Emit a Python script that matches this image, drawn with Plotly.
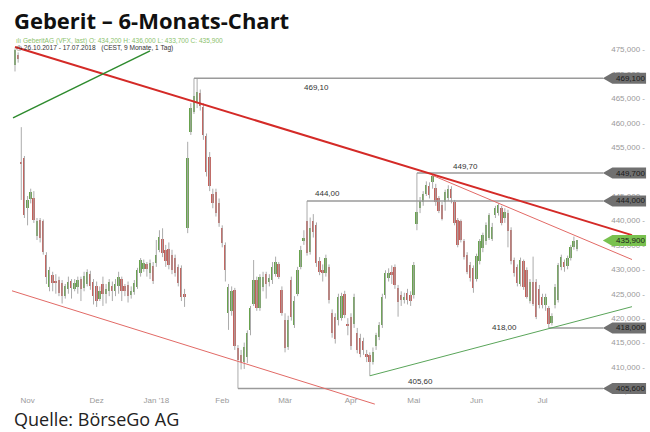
import pandas as pd
import plotly.graph_objects as go

# ---------------- data ----------------
holidays = ["2017-12-25", "2017-12-26", "2018-01-01", "2018-01-02", "2018-03-30",
            "2018-04-02", "2018-05-01", "2018-05-10", "2018-05-21"]
dates = [d.strftime("%Y-%m-%d") for d in pd.bdate_range("2017-10-26", "2018-07-17")
         if d.strftime("%Y-%m-%d") not in holidays]

open_ = [471.8, 473.9, 452.0, 452.7, 442.5, 444.4, 444.7, 436.8, 440.0, 439.8,
         433.0, 426.4, 428.8, 427.5, 427.8, 427.2, 424.5, 426.0, 427.6, 426.0,
         426.3, 428.0, 426.2, 427.0, 429.0, 427.5, 426.5, 424.0, 427.0, 425.0,
         425.5, 426.5, 425.5, 426.5, 428.0, 426.5, 426.8, 424.8, 425.4, 426.4,
         429.2, 430.0, 431.0, 429.2, 430.7, 431.2, 434.0, 436.2, 434.0, 434.2,
         433.0, 432.4, 430.5, 430.2, 425.0, 438.4, 458.2, 462.3, 464.0, 466.0,
         463.3, 457.2, 453.0, 445.5, 445.9, 443.5, 438.5, 435.0, 421.0, 421.5,
         425.8, 413.9, 412.5, 411.0, 412.1, 417.6, 423.0, 427.8, 422.0, 426.4,
         429.0, 427.5, 427.8, 429.0, 431.0, 425.8, 419.6, 414.0, 427.8, 418.7,
         425.0, 430.5, 435.8, 439.8, 433.5, 439.8, 439.1, 431.8, 429.8, 429.2,
         430.5, 421.0, 420.3, 419.6, 420.0, 425.0, 418.8, 420.3, 418.8, 416.9,
         416.0, 415.4, 412.6, 412.5, 411.1, 414.2, 416.2, 418.6, 424.7, 428.2,
         429.5, 430.5, 426.1, 424.8, 423.8, 425.2, 424.8, 424.7, 439.2, 442.5,
         443.8, 445.5, 447.0, 447.8, 446.6, 444.5, 443.2, 443.8, 444.5, 446.5,
         443.8, 440.1, 439.8, 435.7, 433.0, 430.9, 430.2, 428.0, 431.6, 434.3,
         435.7, 436.5, 436.3, 441.1, 441.5, 442.5, 440.5, 441.5, 438.1, 431.9,
         430.5, 427.0, 431.6, 429.9, 423.5, 427.5, 427.5, 426.0, 424.4, 422.7,
         422.0, 419.0, 422.7, 423.7, 430.5, 431.5, 430.7, 432.3, 434.5, 434.2]
high = [475.2, 474.4, 459.1, 453.2, 445.0, 446.5, 446.0, 440.5, 440.5, 440.2,
        433.5, 430.5, 429.5, 429.0, 428.5, 427.8, 427.0, 428.5, 428.0, 428.0,
        428.5, 428.5, 429.5, 430.0, 429.7, 428.0, 427.5, 426.5, 428.5, 427.0,
        428.0, 427.5, 428.0, 429.5, 428.5, 427.0, 427.5, 426.5, 427.8, 430.3,
        432.3, 432.0, 431.5, 432.0, 431.5, 436.0, 438.0, 438.4, 435.0, 435.5,
        434.0, 433.0, 431.0, 430.8, 426.0, 456.1, 464.0, 469.1, 469.1, 466.8,
        464.0, 457.8, 454.0, 446.5, 446.5, 444.5, 439.0, 435.5, 427.0, 426.5,
        426.2, 414.5, 413.5, 415.0, 417.5, 422.5, 431.9, 428.5, 429.0, 429.5,
        429.5, 429.0, 431.5, 432.6, 431.5, 426.5, 421.0, 420.5, 428.5, 424.5,
        430.5, 434.8, 438.0, 444.0, 440.6, 441.3, 439.6, 432.5, 431.0, 433.0,
        431.0, 421.8, 421.0, 425.0, 425.2, 425.6, 420.0, 421.0, 425.0, 418.0,
        416.8, 416.0, 413.5, 413.0, 414.0, 417.0, 419.2, 425.0, 429.8, 430.2,
        430.8, 431.0, 426.8, 425.5, 425.2, 426.0, 425.5, 431.5, 449.7, 444.8,
        446.0, 448.0, 447.8, 449.5, 447.5, 445.0, 443.8, 446.3, 447.2, 447.0,
        444.2, 440.5, 440.2, 436.2, 433.5, 431.5, 430.8, 433.2, 436.2, 437.5,
        439.6, 441.5, 439.5, 443.0, 443.5, 443.0, 442.5, 442.2, 438.6, 432.4,
        431.0, 432.4, 432.0, 430.4, 428.0, 432.6, 428.0, 426.8, 425.0, 425.0,
        422.5, 421.0, 427.0, 431.3, 433.0, 432.0, 432.8, 435.0, 436.7, 436.0]
low = [470.5, 472.3, 444.2, 440.5, 439.0, 443.5, 439.5, 436.0, 435.5, 433.0,
       427.0, 425.5, 425.5, 425.0, 424.5, 423.0, 424.0, 425.0, 424.0, 425.5,
       425.0, 423.5, 425.5, 426.5, 425.8, 422.8, 422.3, 423.5, 422.5, 423.0,
       424.5, 423.5, 424.5, 425.0, 423.5, 424.5, 423.2, 424.0, 424.8, 426.0,
       428.5, 429.5, 428.5, 428.0, 427.0, 430.5, 433.5, 432.5, 430.5, 430.0,
       429.0, 428.5, 426.5, 423.5, 422.3, 437.4, 457.5, 461.8, 463.0, 462.5,
       456.5, 449.0, 446.0, 442.5, 440.8, 438.7, 434.5, 427.5, 417.6, 420.5,
       413.5, 405.6, 409.5, 409.6, 410.8, 416.5, 422.5, 421.5, 421.5, 425.5,
       424.0, 426.5, 427.0, 428.5, 428.0, 420.5, 413.0, 413.5, 419.5, 418.0,
       424.5, 430.0, 435.0, 432.8, 433.0, 436.5, 430.5, 428.8, 427.5, 428.5,
       423.0, 416.0, 414.8, 418.5, 419.5, 420.0, 416.5, 413.5, 418.0, 412.8,
       412.0, 412.5, 411.0, 408.2, 410.5, 413.5, 415.5, 418.0, 424.0, 427.5,
       427.0, 426.0, 420.3, 422.5, 423.0, 422.8, 422.5, 424.0, 438.0, 441.5,
       443.0, 445.0, 444.5, 446.5, 443.0, 441.5, 440.0, 442.0, 444.0, 443.5,
       439.0, 434.5, 435.5, 432.0, 429.0, 427.5, 425.2, 427.5, 431.0, 433.5,
       435.0, 436.0, 435.8, 440.5, 441.0, 439.0, 439.5, 434.5, 431.0, 428.5,
       426.5, 426.5, 425.8, 424.0, 423.0, 422.5, 419.8, 422.0, 422.0, 421.5,
       418.0, 418.5, 422.0, 423.2, 429.8, 429.5, 430.0, 431.8, 434.0, 433.7]
close = [474.8, 473.0, 451.7, 441.1, 444.2, 445.9, 440.1, 439.8, 436.4, 433.6,
         428.5, 429.9, 427.1, 427.3, 425.1, 424.5, 426.5, 427.5, 426.2, 427.2,
         427.8, 426.0, 428.6, 429.5, 426.5, 424.5, 423.5, 425.5, 425.0, 426.0,
         427.5, 425.5, 427.0, 428.5, 425.5, 425.5, 424.5, 425.6, 427.2, 429.9,
         431.9, 431.3, 430.0, 431.3, 427.6, 433.0, 436.7, 433.3, 431.6, 430.8,
         429.9, 429.3, 427.1, 424.4, 424.4, 452.7, 463.0, 465.5, 466.2, 463.5,
         457.5, 450.0, 447.0, 443.6, 441.5, 439.5, 435.3, 429.9, 426.4, 425.5,
         414.2, 411.4, 411.0, 414.0, 416.9, 422.0, 427.8, 422.0, 428.5, 428.5,
         427.0, 428.3, 430.5, 431.5, 428.5, 421.0, 413.8, 419.6, 420.3, 423.5,
         429.9, 434.0, 436.5, 433.3, 438.5, 437.6, 431.2, 429.4, 429.3, 432.3,
         423.7, 416.9, 415.8, 424.4, 424.5, 420.6, 418.3, 414.2, 424.4, 413.5,
         412.6, 413.5, 412.2, 411.0, 413.1, 416.6, 418.6, 424.4, 429.2, 429.3,
         428.8, 426.8, 423.4, 423.8, 424.4, 423.8, 423.5, 430.9, 441.8, 444.0,
         445.5, 447.3, 445.2, 449.0, 443.8, 442.0, 440.4, 445.9, 446.5, 444.5,
         439.4, 435.0, 436.0, 432.5, 429.5, 428.2, 426.1, 432.7, 435.7, 437.0,
         439.1, 441.1, 438.7, 442.5, 443.2, 439.4, 441.8, 437.8, 431.6, 429.2,
         427.1, 431.9, 426.4, 424.4, 427.5, 423.0, 420.3, 422.7, 422.7, 424.4,
         418.9, 420.5, 426.4, 430.9, 432.6, 430.5, 432.3, 434.5, 435.7, 435.9]

month_labels = ["Nov", "Dez", "Jan '18", "Feb", "Mär", "Apr", "Mai", "Jun", "Jul"]
y_ticks = [475, 470, 465, 460, 455, 450, 445, 440, 435, 430, 425, 420, 415, 410, 405]

# trend lines: (index of trading day, price)
trend_main_x = [0, 196.5]
trend_main_y = [475.5, 437.0]
trend_upper_x = [132.7, 196.5]
trend_upper_y = [449.3, 432.0]
trend_channel_x = [-0.96, 114.6]
trend_channel_y = [425.6, 402.4]
trend_green_top_x = [-0.64, 43.0]
trend_green_top_y = [461.0, 474.7]
trend_green_low_x = [113, 196.5]
trend_green_low_y = [408.2, 422.35]

levels = [469.10, 449.70, 444.00, 418.00, 405.60]
level_start = [57, 128, 93, 170, 71]
level_label_x = [95.9, 143.6, 99.4, 156.0, 129.3]
level_label_shift = [-9, 7, 7, 0, 7]
last_price = 435.90

header1 = "ılı GeberitAG (VFX, last) O: 434,200 H: 436,000 L: 433,700 C: 435,900"
header2 = "◷ 26.10.2017 - 17.07.2018   (CEST, 9 Monate, 1 Tag)"

# ---------------- figure ----------------
fig = go.Figure()

fig.add_trace(go.Ohlc(
    x=dates, open=open_, high=high, low=low, close=close, tickwidth=0,
    increasing=dict(line=dict(color="#ababab", width=1)),
    decreasing=dict(line=dict(color="#ababab", width=1)),
    hoverinfo="skip", showlegend=False))

base = [min(o, c) for o, c in zip(open_, close)]
body = [max(abs(c - o), 0.22) for o, c in zip(open_, close)]
colors = ["#68a24e" if c >= o else "#c4605b" for o, c in zip(open_, close)]
fig.add_trace(go.Bar(x=dates, y=body, base=base, width=0.6,
                     marker=dict(color=colors, line=dict(width=0)),
                     hoverinfo="skip", showlegend=False))

shapes = []


def seg(xs, ys, color, width):
    shapes.append(dict(type="line", xref="x", yref="y", x0=xs[0], x1=xs[1],
                       y0=ys[0], y1=ys[1], line=dict(color=color, width=width),
                       layer="above"))


TIP = 187.3
for lv, st in zip(levels, level_start):
    seg([st, TIP], [lv, lv], "#9a9a9a", 1.5)

seg(trend_main_x, trend_main_y, "#d42a27", 2)
seg(trend_upper_x, trend_upper_y, "#e26a66", 1)
seg(trend_channel_x, trend_channel_y, "#e26a66", 1)
seg(trend_green_top_x, trend_green_top_y, "#2e8b2e", 1.5)
seg(trend_green_low_x, trend_green_low_y, "#5aa55a", 1)

annotations = []
# price tags on the right
tag_x0, tag_x1, tag_x2 = 0.929, 0.944, 0.997
half = 1.13
for lv, fill in [(v, "#707070") for v in levels] + [(last_price, "#79c14f")]:
    path = (f"M {tag_x0},{lv} L {tag_x1},{lv + half} L {tag_x2},{lv + half} "
            f"L {tag_x2},{lv - half} L {tag_x1},{lv - half} Z")
    shapes.append(dict(type="path", xref="paper", yref="y", path=path,
                       fillcolor=fill, line=dict(width=0), layer="above"))
    annotations.append(dict(xref="paper", yref="y", x=(tag_x1 + tag_x2) / 2 + 0.002, y=lv,
                            text=f"{lv:.3f}".replace(".", ","), showarrow=False,
                            font=dict(family="Liberation Sans, Arial", size=8, color="#1a1a1a"),
                            xanchor="center", yanchor="middle"))

for lv, lx, sh in zip(levels, level_label_x, level_label_shift):
    annotations.append(dict(xref="x", yref="y", x=lx, y=lv, yshift=sh,
                            text=f"{lv:.2f}".replace(".", ","), showarrow=False,
                            font=dict(family="Liberation Sans, Arial", size=8, color="#333333"),
                            xanchor="center", yanchor="middle"))

# header and footer texts
annotations.append(dict(xref="paper", yref="paper", x=0.0, y=1.054, xanchor="left",
                        yanchor="middle", showarrow=False,
                        text="<b>Geberit – 6-Monats-Chart</b>",
                        font=dict(family="Open Sans", size=22, color="#111111")))
annotations.append(dict(xref="paper", yref="paper", x=0.003, y=(412 - 41) / 372,
                        xanchor="left", yanchor="middle", showarrow=False, text=header1,
                        font=dict(family="Liberation Sans, Arial", size=6.6, color="#8cc26c")))
annotations.append(dict(xref="paper", yref="paper", x=0.003, y=(412 - 48.5) / 372,
                        xanchor="left", yanchor="middle", showarrow=False, text=header2,
                        font=dict(family="Liberation Sans, Arial", size=6.6, color="#333333")))
annotations.append(dict(xref="paper", yref="paper", x=0.0, y=(412 - 419) / 372,
                        xanchor="left", yanchor="middle", showarrow=False,
                        text="Quelle: BörseGo AG",
                        font=dict(family="Open Sans", size=18, color="#222222")))

# month ticks: first trading day of each month
month_ticks = [d for i, d in enumerate(dates) if i > 0 and d[5:7] != dates[i - 1][5:7]]

fig.update_layout(
    width=650, height=432,
    margin=dict(l=12, r=2, t=40, b=20),
    paper_bgcolor="white", plot_bgcolor="white",
    showlegend=False, bargap=0,
    shapes=shapes, annotations=annotations,
    xaxis=dict(type="category", range=[-0.96, 201.6], rangeslider=dict(visible=False),
               tickvals=month_ticks, ticktext=month_labels,
               ticklabelposition="inside", ticklabelstandoff=4, ticks="",
               showgrid=False, zeroline=False, showline=False,
               tickfont=dict(family="Liberation Sans, Arial", size=8, color="#9a9a9a")),
    yaxis=dict(side="right", range=[400.79, 476.94], tickvals=y_ticks,
               ticktext=[f"{v},000 -" for v in y_ticks],
               ticklabelposition="inside", ticks="", showgrid=False, zeroline=False,
               showline=False,
               tickfont=dict(family="Liberation Sans, Arial", size=8, color="#9a9a9a")),
)

fig.write_html("out.html", config={"displayModeBar": False},
               post_script="document.body.style.margin='0';")
